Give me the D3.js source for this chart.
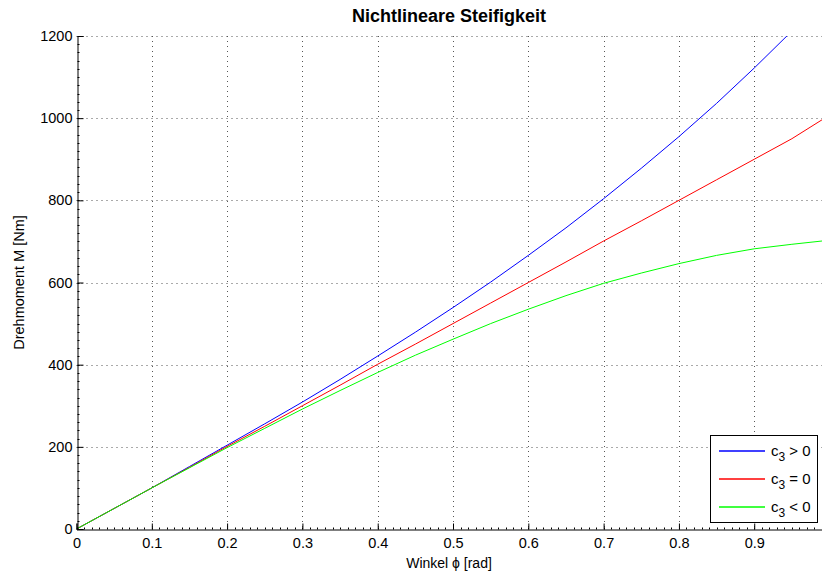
<!DOCTYPE html>
<html>
<head>
<meta charset="utf-8">
<script src="https://cdn.jsdelivr.net/npm/d3@7"></script>
<style>
  body { margin: 0; background: #fff; }
  text { font-family: "Liberation Sans", Arial, sans-serif; }
</style>
</head>
<body>
<div id="chart"></div>
<script>
const width = 822;
const height = 575;
const margin = { top: 36, right: 0, bottom: 46, left: 76.5 };

// Winkel phi [rad]
const phi = [0, 0.05, 0.1, 0.15, 0.2, 0.25, 0.3, 0.35, 0.4, 0.45, 0.5, 0.55, 0.6, 0.65, 0.7, 0.75, 0.8, 0.85, 0.9, 0.95, 0.99];
// Drehmoment M [Nm]
const mPos = [0, 50, 100, 152, 204, 256, 309, 364, 421, 479, 539, 601, 666, 733, 804, 878, 955, 1036, 1122, 1212, null];
const mZero = [0, 50, 100, 150, 201, 250, 300, 350, 401, 450, 500, 550, 600, 650, 701, 750, 800, 850, 900, 950, 996];
const mNeg = [0, 50, 100, 149, 198, 245, 292, 337, 381, 423, 462, 500, 535, 568, 598, 623, 646, 666, 682, 693, 701];

const xTicks = [0, 0.1, 0.2, 0.3, 0.4, 0.5, 0.6, 0.7, 0.8, 0.9];
const yTicks = [0, 200, 400, 600, 800, 1000, 1200];

const series = [
    { name: "> 0", values: mPos, color: "#0000ff" },
    { name: "= 0", values: mZero, color: "#ff0000" },
    { name: "< 0", values: mNeg, color: "#00ff00" }
];

const svg = d3.select("#chart")
    .append("svg")
    .attr("width", width)
    .attr("height", height);

const x = d3.scaleLinear().domain([0, 0.99]).range([margin.left, width - margin.right]);
const y = d3.scaleLinear().domain([0, 1200]).range([height - margin.bottom, margin.top]);

// grid
const grid = svg.append("g")
    .attr("stroke", "#555")
    .attr("stroke-width", 1)
    .attr("stroke-dasharray", "1,4");

grid.selectAll(".vx")
    .data(xTicks.slice(1))
    .enter().append("line")
    .attr("x1", d => Math.round(x(d)) + 0.5)
    .attr("x2", d => Math.round(x(d)) + 0.5)
    .attr("y1", y(1200))
    .attr("y2", y(0));

grid.selectAll(".hy")
    .data(yTicks.slice(1))
    .enter().append("line")
    .attr("x1", x(0))
    .attr("x2", width)
    .attr("y1", d => Math.round(y(d)) + 0.5)
    .attr("y2", d => Math.round(y(d)) + 0.5);

// lines
svg.append("clipPath").attr("id", "plot")
    .append("rect")
    .attr("x", x(0)).attr("y", y(1200))
    .attr("width", width - x(0)).attr("height", y(0) - y(1200));

const line = d3.line()
    .defined(d => d[1] !== null)
    .x(d => x(d[0]))
    .y(d => y(d[1]));

svg.append("g")
    .attr("clip-path", "url(#plot)")
    .selectAll("path")
    .data(series)
    .enter().append("path")
    .attr("fill", "none")
    .attr("stroke", d => d.color)
    .attr("stroke-width", 1)
    .attr("d", d => line(phi.map((p, i) => [p, d.values[i]])));

// axes
const xAxis = d3.axisBottom(x)
    .tickValues(xTicks)
    .tickSize(-6)
    .tickPadding(8)
    .tickFormat(d => d === 0 ? "0" : d3.format(".1f")(d));

const yAxis = d3.axisLeft(y)
    .tickValues(yTicks)
    .tickSize(-6)
    .tickPadding(5)
    .tickFormat(d3.format("d"));

const gx = svg.append("g")
    .attr("transform", `translate(0, ${Math.round(y(0)) + 0.5})`)
    .call(xAxis);

const gy = svg.append("g")
    .attr("transform", `translate(${Math.round(x(0)) + 0.5}, 0)`)
    .call(yAxis);

[gx, gy].forEach(g => {
    g.select(".domain").attr("stroke", "#000");
    g.selectAll(".tick line").attr("stroke", "#000");
    g.selectAll("text")
        .attr("fill", "#000")
        .style("font-size", "14.5px")
        .style("font-family", "'Liberation Sans', Arial, sans-serif");
});

// minor ticks
svg.append("g")
    .attr("stroke", "#000")
    .selectAll("line")
    .data(d3.range(0, 100).map(i => i / 100))
    .enter().append("line")
    .attr("x1", d => Math.round(x(d)) + 0.5)
    .attr("x2", d => Math.round(x(d)) + 0.5)
    .attr("y1", Math.round(y(0)) + 0.5)
    .attr("y2", Math.round(y(0)) - 1.5);

svg.append("g")
    .attr("stroke", "#000")
    .selectAll("line")
    .data(d3.range(0, 61).map(i => i * 20))
    .enter().append("line")
    .attr("y1", d => Math.round(y(d)) + 0.5)
    .attr("y2", d => Math.round(y(d)) + 0.5)
    .attr("x1", Math.round(x(0)) + 0.5)
    .attr("x2", Math.round(x(0)) + 2.5);

// title and labels
svg.append("text")
    .attr("x", 449)
    .attr("y", 22)
    .attr("text-anchor", "middle")
    .style("font-size", "18px")
    .style("font-weight", "bold")
    .text("Nichtlineare Steifigkeit");

svg.append("text")
    .attr("x", 449)
    .attr("y", 568)
    .attr("text-anchor", "middle")
    .style("font-size", "14px")
    .text("Winkel ϕ [rad]");

svg.append("text")
    .attr("transform", `translate(24, ${y(600)}) rotate(-90)`)
    .attr("text-anchor", "middle")
    .style("font-size", "14.5px")
    .text("Drehmoment M [Nm]");

// legend
const legend = svg.append("g");
legend.append("rect")
    .attr("x", 710.5).attr("y", 435.5)
    .attr("width", 107).attr("height", 87)
    .attr("fill", "#fff")
    .attr("stroke", "#000");

const rows = legend.selectAll(".row")
    .data(series)
    .enter().append("g")
    .attr("transform", (d, i) => `translate(0, ${451 + i * 28})`);

rows.append("line")
    .attr("x1", 719).attr("x2", 765)
    .attr("y1", 0).attr("y2", 0)
    .style("stroke", d => d.color)
    .style("stroke-width", 1.3);

const lt = rows.append("text")
    .attr("x", 771)
    .attr("y", 5)
    .style("font-size", "15px");
lt.append("tspan").text("c");
lt.append("tspan").attr("dy", 5).style("font-size", "12px").text("3");
lt.append("tspan").attr("dy", -5).text(d => " " + d.name);
</script>
</body>
</html>
